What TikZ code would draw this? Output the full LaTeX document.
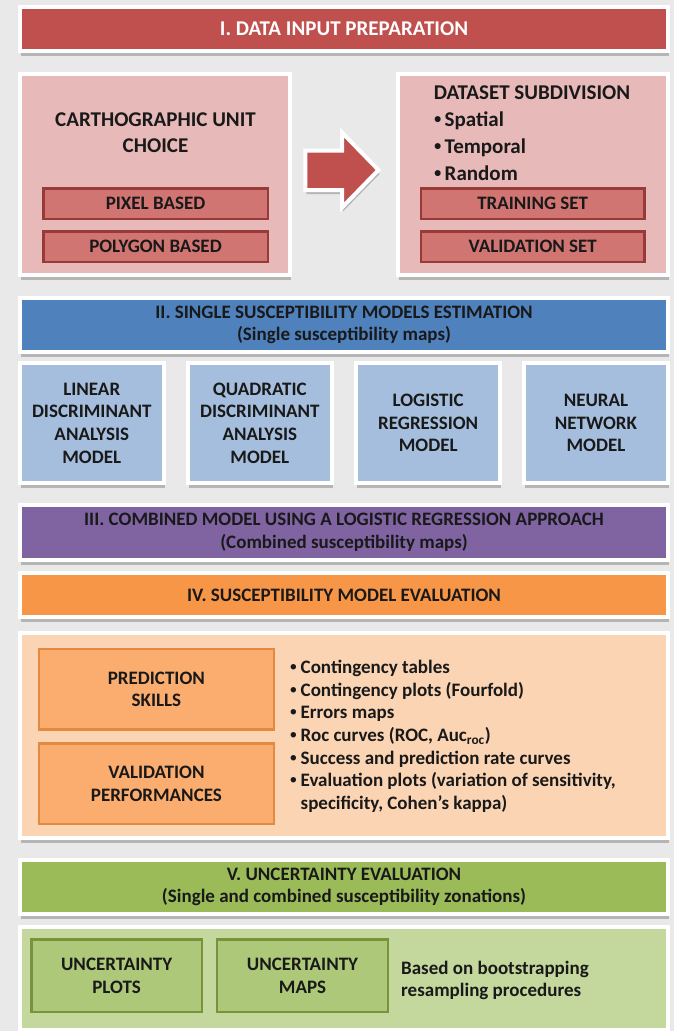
\documentclass[tikz,border=0pt]{standalone}
\usepackage{fontspec}
\setmainfont{Carlito}
\newfontfamily\bulletfont{Liberation Sans}
\usetikzlibrary{shadows}

\definecolor{bgc}{HTML}{E9E9E9}
\definecolor{redhead}{HTML}{C0504D}
\definecolor{redpanel}{HTML}{E7B9B8}
\definecolor{redbox}{HTML}{D07572}
\definecolor{redline}{HTML}{983A37}
\definecolor{bluehead}{HTML}{4F81BD}
\definecolor{bluebox}{HTML}{A5BEDD}
\definecolor{purplehead}{HTML}{8064A2}
\definecolor{orangehead}{HTML}{F79646}
\definecolor{orangepanel}{HTML}{FBD4B4}
\definecolor{orangebox}{HTML}{FAAD6E}
\definecolor{orangeline}{HTML}{E28B40}
\definecolor{greenhead}{HTML}{9BBB59}
\definecolor{greenpanel}{HTML}{C4D79C}
\definecolor{greenbox}{HTML}{ADC878}
\definecolor{greenline}{HTML}{77933C}

% small round bullet followed by a fixed indent
\newcommand{\mybul}{\makebox[10.5pt][l]{{\bulletfont •}}}

\begin{document}
\begin{tikzpicture}[x=1pt,y=-1pt,
  txt/.style={font={\fontsize{19}{22.7}\selectfont\bfseries}, text=black!90},
  bigtxt/.style={font={\fontsize{21}{26.7}\selectfont\bfseries}, text=black!90},
  frame/.style={draw=white, line width=4pt, inner sep=0pt, align=center, txt,
    drop shadow={shadow xshift=1pt, shadow yshift=-5pt, fill=black, opacity=0.22}},
  subbox/.style={line width=2.5pt, inner sep=0pt, align=center, txt},
  redsub/.style={subbox, draw=redline, fill=redbox, minimum width=224.5, minimum height=30.7},
  orangesub/.style={subbox, draw=orangeline, fill=orangebox, minimum width=234.8, minimum height=80.5},
  greensub/.style={subbox, draw=greenline, fill=greenbox, minimum width=170.6, minimum height=72.5},
  modelbox/.style={frame, fill=bluebox, minimum width=144, minimum height=120},
  wide/.style={frame, minimum width=648},
  listtxt/.style={txt, align=left, inner sep=0pt}
]
\fill[bgc] (0,0) rectangle (674,1031);
\useasboundingbox (0,0) rectangle (674,1031);

% I. data input preparation
\node[wide, fill=redhead, minimum height=44, text=white,
  font={\fontsize{21}{25}\selectfont\bfseries}] (h1) at (344,29) {I. DATA INPUT PREPARATION};

\node[frame, fill=redpanel, minimum width=270, minimum height=201] (unit) at (155,174.5) {};
\node[bigtxt, align=center, inner sep=0pt] (unitT) at (155.5,132.6) {CARTHOGRAPHIC UNIT\\CHOICE};
\node[redsub] (pix) at (155.5,203.8) {PIXEL BASED};
\node[redsub] (poly) at (155.5,246.6) {POLYGON BASED};

\node[frame, fill=redpanel, minimum width=270.5, minimum height=201] (subd) at (532.75,174.5) {};
\node[bigtxt, inner sep=0pt] (subdT) at (532,93) {DATASET SUBDIVISION};
\node[bigtxt, align=left, inner sep=0pt, anchor=west] (subdL) at (434,146)
  {\mybul Spatial\\\mybul Temporal\\\mybul Random};
\node[redsub, minimum width=223.7] (train) at (532.7,203.8) {TRAINING SET};
\node[redsub, minimum width=223.7] (valid) at (532.7,246.6) {VALIDATION SET};

% block arrow between the two panels
\filldraw[fill=redhead, draw=white, line width=4pt, line join=miter,
  drop shadow={shadow xshift=1pt, shadow yshift=-4pt, fill=black, opacity=0.22}]
  (305.3,150.5) -- (342,150.5) -- (342,132.5) -- (378.5,170) -- (342,207.5)
  -- (342,190) -- (305.3,190) -- cycle;

% II. single models
\node[wide, fill=bluehead, minimum height=54] (h2) at (344,325)
  {II. SINGLE SUSCEPTIBILITY MODELS ESTIMATION\\(Single susceptibility maps)};
\node[modelbox] (lda) at (91.75,423) {LINEAR\\DISCRIMINANT\\ANALYSIS\\MODEL};
\node[modelbox] (qda) at (259.8,423) {QUADRATIC\\DISCRIMINANT\\ANALYSIS\\MODEL};
\node[modelbox] (lrm) at (428.2,423) {LOGISTIC\\REGRESSION\\MODEL};
\node[modelbox] (nnm) at (596,423) {NEURAL\\NETWORK\\MODEL};

% III. combined model
\node[wide, fill=purplehead, minimum height=54.7] (h3) at (344,532.4)
  {III. COMBINED MODEL USING A LOGISTIC REGRESSION APPROACH\\(Combined susceptibility maps)};

% IV. evaluation
\node[wide, fill=orangehead, minimum height=44] (h4) at (344,595) {IV. SUSCEPTIBILITY MODEL EVALUATION};
\node[wide, fill=orangepanel, minimum height=205.3] (evalp) at (344,735.4) {};
\node[orangesub] (pred) at (156.4,689.4) {PREDICTION\\SKILLS};
\node[orangesub] (perf) at (156.4,783.9) {VALIDATION\\PERFORMANCES};
\node[listtxt, anchor=west] (evalL) at (290,736.3)
  {\mybul Contingency tables\\
   \mybul Contingency plots (Fourfold)\\
   \mybul Errors maps\\
   \mybul Roc curves (ROC, Auc\textsubscript{roc})\\
   \mybul Success and prediction rate curves\\
   \mybul Evaluation plots (variation of sensitivity,\\
   \hspace*{10.5pt}specificity, Cohen’s kappa)};

% V. uncertainty
\node[wide, fill=greenhead, minimum height=54] (h5) at (344,887)
  {V. UNCERTAINTY EVALUATION\\(Single and combined susceptibility zonations)};
\node[wide, fill=greenpanel, minimum height=103.3] (uncp) at (344,978.7) {};
\node[greensub] (uplot) at (116.6,975.8) {UNCERTAINTY\\PLOTS};
\node[greensub] (umap) at (302.5,975.8) {UNCERTAINTY\\MAPS};
\node[listtxt, anchor=west] (boot) at (401,980.5) {Based on bootstrapping\\resampling procedures};
\end{tikzpicture}
\end{document}
